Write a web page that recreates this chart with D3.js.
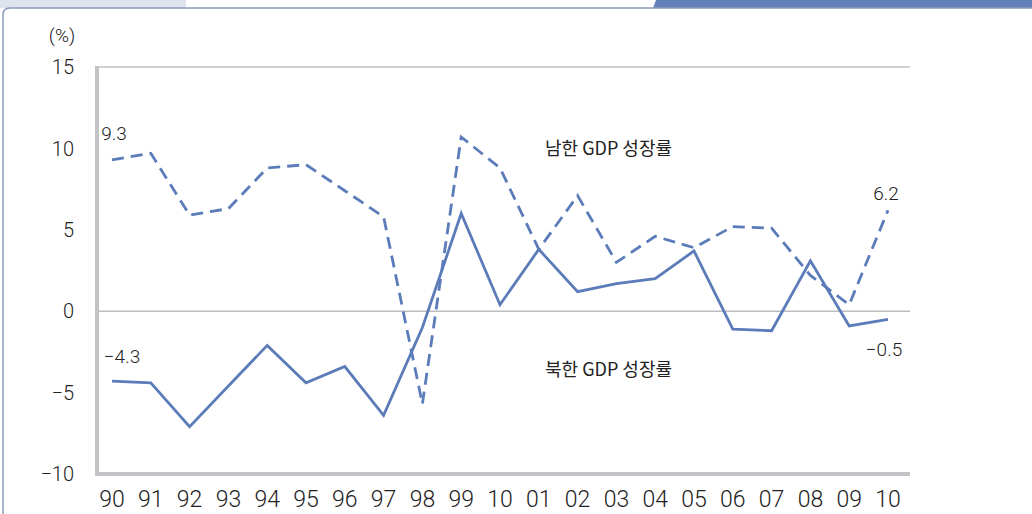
<!DOCTYPE html>
<html>
<head>
<meta charset="utf-8">
<script src="https://cdn.jsdelivr.net/npm/d3@7"></script>
<style>
  body { margin: 0; background: #fff; }
  svg { display: block; }
</style>
</head>
<body>
<svg id="chart"></svg>
<script>
// years on the x axis
const years = ["90", "91", "92", "93", "94", "95", "96", "97", "98", "99", "10",
  "01", "02", "03", "04", "05", "06", "07", "08", "09", "10"];
// South Korea GDP growth (%)
const southGrowth = [9.3, 9.7, 5.9, 6.3, 8.8, 9.0, 7.4, 5.8, -5.7, 10.7, 8.8,
  3.8, 7.1, 3.0, 4.6, 3.9, 5.2, 5.1, 2.2, 0.4, 6.2];
// North Korea GDP growth (%)
const northGrowth = [-4.3, -4.4, -7.1, -4.6, -2.1, -4.4, -3.4, -6.4, -1.0, 6.0, 0.4,
  3.8, 1.2, 1.7, 2.0, 3.7, -1.1, -1.2, 3.1, -0.9, -0.5];
const yTicks = [15, 10, 5, 0, -5, -10];

const width = 1032, height = 514;
const lineColor = "#5b7cb9";
const axisGray = "#c3c3c7";
const fontNum = "Roboto, 'Liberation Sans', sans-serif";
const fontKr = "'Noto Sans CJK KR', 'Noto Sans', sans-serif";

const svg = d3.select("#chart").attr("width", width).attr("height", height);

// page decoration: top bands and rounded frame
svg.append("rect").attr("x", 0).attr("y", 0).attr("width", 186).attr("height", 8).attr("fill", "#dfe3ee");
svg.append("path").attr("d", "M656,0 L1032,0 L1032,8 L653,8 Z").attr("fill", "#6381b9");
svg.append("path")
  .attr("d", "M3,514 L3,15 Q3,8 10,8 L1032,8")
  .attr("fill", "none").attr("stroke", "#8a99bb").attr("stroke-width", 1.5);

const x = d3.scalePoint().domain(d3.range(years.length)).range([112, 888]);
const y = d3.scaleLinear().domain([-10, 15]).range([474, 67]);

// top gridline and zero line
svg.append("line").attr("x1", 98).attr("x2", 910).attr("y1", y(15)).attr("y2", y(15))
  .attr("stroke", "#d0d0d3").attr("stroke-width", 2);
svg.append("line").attr("x1", 98).attr("x2", 910).attr("y1", y(0)).attr("y2", y(0))
  .attr("stroke", "#bdbdc0").attr("stroke-width", 1.5);

// thick axis lines
svg.append("line").attr("x1", 97).attr("x2", 97).attr("y1", y(15) - 1).attr("y2", y(-10) + 2)
  .attr("stroke", axisGray).attr("stroke-width", 4);
svg.append("line").attr("x1", 95).attr("x2", 910).attr("y1", y(-10)).attr("y2", y(-10))
  .attr("stroke", axisGray).attr("stroke-width", 4);

// y tick labels
const fmt = d => (d < 0 ? "\u2212" + Math.abs(d) : String(d));
svg.append("g").selectAll("text").data(yTicks).join("text")
  .attr("x", 74).attr("y", d => y(d)).attr("dy", "0.36em")
  .attr("text-anchor", "end")
  .style("font-family", fontNum).style("font-weight", 300)
  .style("font-size", "20px").style("fill", "#222")
  .text(fmt);

// x tick labels
svg.append("g").selectAll("text").data(years).join("text")
  .attr("x", (d, i) => x(i)).attr("y", 507)
  .attr("text-anchor", "middle")
  .style("font-family", fontNum).style("font-weight", 300)
  .style("font-size", "23px").style("fill", "#222")
  .text(d => d);

svg.append("text").attr("x", 62).attr("y", 42).attr("text-anchor", "middle")
  .style("font-family", fontNum).style("font-weight", 300)
  .style("font-size", "19px").style("fill", "#222")
  .text("(%)");

const line = d3.line().x((d, i) => x(i)).y(d => y(d));

svg.append("path").datum(southGrowth).attr("d", line)
  .attr("fill", "none").attr("stroke", lineColor).attr("stroke-width", 2.8)
  .attr("stroke-dasharray", "12,7");
svg.append("path").datum(northGrowth).attr("d", line)
  .attr("fill", "none").attr("stroke", lineColor).attr("stroke-width", 2.8);

// series labels
svg.append("text").attr("x", 545).attr("y", 155)
  .style("font-family", fontKr).style("font-size", "18px").style("fill", "#222")
  .text("남한 GDP 성장률");
svg.append("text").attr("x", 545).attr("y", 376)
  .style("font-family", fontKr).style("font-size", "18px").style("fill", "#222")
  .text("북한 GDP 성장률");

// end value labels
const last = years.length - 1;
const valLabels = [
  { t: southGrowth[0], i: 0, dx: 2, dy: -20 },
  { t: northGrowth[0], i: 0, dx: 10, dy: -18 },
  { t: southGrowth[last], i: last, dx: -2, dy: -10 },
  { t: northGrowth[last], i: last, dx: -4, dy: 37 }
];
svg.append("g").selectAll("text").data(valLabels).join("text")
  .attr("x", d => x(d.i) + d.dx).attr("y", d => y(d.t) + d.dy)
  .attr("text-anchor", "middle")
  .style("font-family", fontNum).style("font-weight", 300)
  .style("font-size", "19px").style("fill", "#222")
  .text(d => (d.t < 0 ? "\u2212" + Math.abs(d.t).toFixed(1) : d.t.toFixed(1)));
</script>
</body>
</html>
